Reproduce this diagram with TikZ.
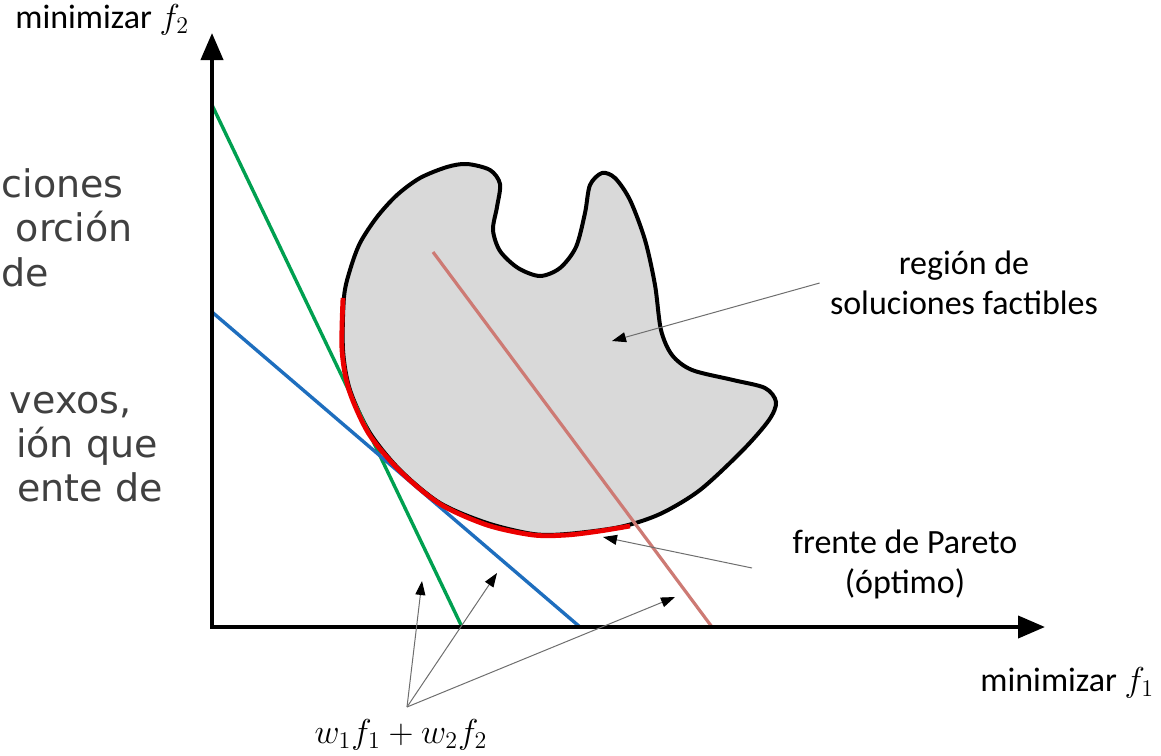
\documentclass[tikz,border=0pt]{standalone}
\usepackage{fontspec}
\setmainfont{Carlito}
\newfontfamily\fragfont{DejaVu Sans}
\usetikzlibrary{arrows.meta}

\definecolor{verd}{RGB}{0,160,80}
\definecolor{blau}{RGB}{30,110,190}
\definecolor{rosat}{RGB}{205,122,116}
\definecolor{vermell}{RGB}{235,0,0}
\definecolor{regio}{RGB}{217,217,217}
\definecolor{fletxa}{RGB}{110,110,110}
\definecolor{fons}{RGB}{64,64,64}

\tikzset{
  eix/.style={line width=2pt, line join=miter},
  recta/.style={line width=1.7pt},
  indic/.style={draw=fletxa, line width=0.5pt, -{Triangle[length=7pt,width=5pt,color=black]}},
  etiqueta/.style={font=\fontsize{17}{20}\selectfont, align=center, inner sep=0pt},
  fragment/.style={font=\fragfont\fontsize{19}{23}\selectfont, text=fons, anchor=base east, inner sep=0pt},
}

\begin{document}
\begin{tikzpicture}[x=0.5pt, y=-0.5pt]
    \useasboundingbox (0,0) rectangle (1161,755);

    % Text tallat de la diapositiva
    \node[fragment] (t1) at (124,197) {ciones};
    \node[fragment] (t2) at (133,241) {orción};
    \node[fragment] (t3) at (49,286) {de};
    \node[fragment] (t4) at (132,413) {vexos,};
    \node[fragment] (t5) at (158,457) {ión que};
    \node[fragment] (t6) at (163,501) {ente de};

    % Regio factible
    \filldraw[fill=regio, line width=2pt] plot[smooth cycle, tension=0.5] coordinates {
        (344,297) (350,270) (360,243) (377,217) (397,195) (420,178) (447,167)
        (467,164) (490,170) (500,184) (497,207) (493,230) (500,251) (518,268)
        (540,276) (560,268) (576,247) (585,213) (590,185) (602,173) (615,178)
        (630,200) (645,240) (655,285) (661,330) (672,355) (692,370) (733,380)
        (765,388) (776,402) (769,420) (743,450) (700,490) (660,514) (620,527)
        (567,534) (533,534) (487,523) (440,503) (400,470) (370,433) (350,390)
        (343,350)};

    % Rectes w1 f1 + w2 f2
    \coordinate (g1) at (212,105); \coordinate (g2) at (462,627);
    \coordinate (b1) at (212,312); \coordinate (b2) at (580,627);
    \coordinate (r1) at (433,252); \coordinate (r2) at (712,627);
    \draw[recta, verd] (g1) -- (g2);
    \draw[recta, blau] (b1) -- (b2);
    \draw[line width=1.6pt, rosat] (r1) -- (r2);

    % Front de Pareto
    \draw[line width=2.4pt, vermell] plot[smooth, tension=0.5] coordinates {
        (343,298) (342,350) (349,390) (369,434) (400,471) (440,504)
        (487,525) (533,535) (567,535) (600,531) (630,526)};

    % Eixos
    \coordinate (O) at (212,627);
    \coordinate (ytop) at (212,33);
    \coordinate (xend) at (1045,627);
    \draw[eix, {Triangle[length=13.5pt,width=11pt]}-{Triangle[length=13.5pt,width=11pt]}]
        (ytop) -- (O) -- (xend);

    % Etiquetes
    \node[etiqueta, anchor=west] (ylab) at (15,20) {minimizar $f_2$};
    \node[etiqueta, anchor=west] (xlab) at (980,683) {minimizar $f_1$};
    \node[etiqueta] (lregio) at (964,283) {región de\\soluciones factibles};
    \node[etiqueta] (lpareto) at (905,564) {frente de Pareto\\(óptimo)};
    \node[font=\fontsize{18}{20}\selectfont, inner sep=0pt] (lw) at (401,735) {$w_1f_1+w_2f_2$};

    % Fletxes
    \coordinate (pr) at (612,341);
    \coordinate (pp0) at (752,568); \coordinate (pp) at (603,537);
    \draw[indic] ([xshift=-5pt]lregio.west) -- (pr);
    \draw[indic] (pp0) -- (pp);
    \coordinate (wbase) at (407,707);
    \coordinate (wv) at (422,581);
    \coordinate (wb) at (497,573);
    \coordinate (wp) at (675,597);
    \foreach \t in {wv,wb,wp}
        \draw[indic] (wbase) -- (\t);
\end{tikzpicture}
\end{document}
